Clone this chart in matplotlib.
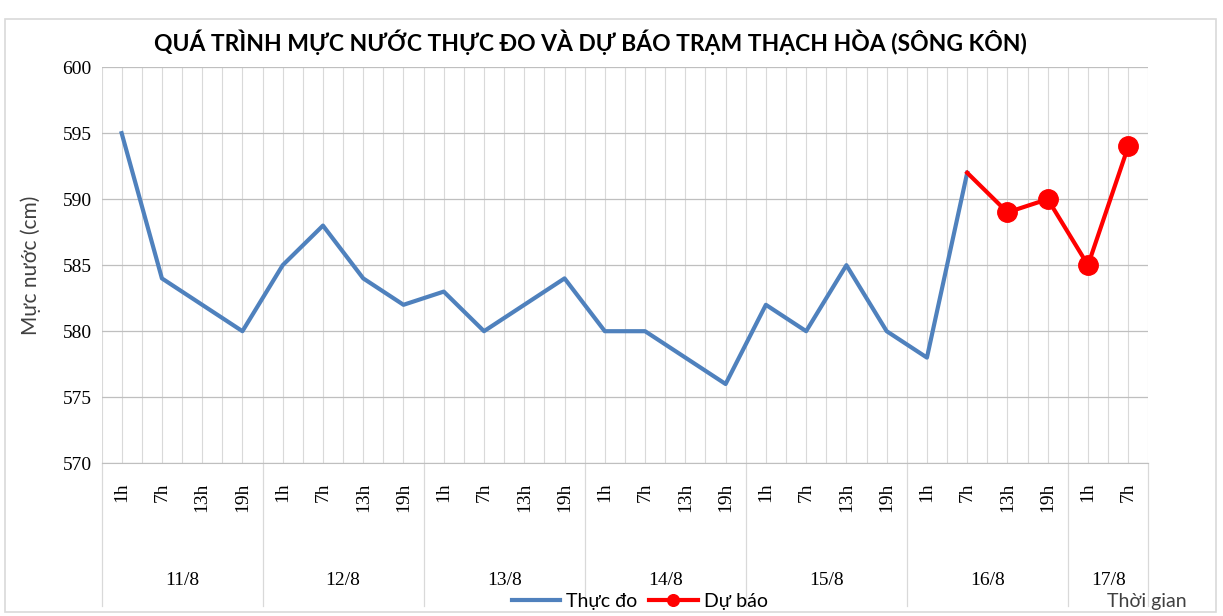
import matplotlib.pyplot as plt
import matplotlib.transforms as mtransforms
from matplotlib.patches import Rectangle

# data
days = ["11/8", "12/8", "13/8", "14/8", "15/8", "16/8", "17/8"]
hours_per_day = [["1h", "7h", "13h", "19h"]] * 6 + [["1h", "7h"]]
hour_labels = [h for hs in hours_per_day for h in hs]
observed = [595, 584, 582, 580, 585, 588, 584, 582, 583, 580, 582, 584,
            580, 580, 578, 576, 582, 580, 585, 580, 578, 592]
forecast = [592, 589, 590, 585, 594]
forecast_start = 21

blue = "#4F81BD"
red = "#FF0000"
grid_c = "#D9D9D9"
serif = "Liberation Serif"
sans = "Lato"

fig = plt.figure(figsize=(12.23, 6.16), dpi=100)
ax = fig.add_axes([0.083, 0.248, 0.856, 0.643])

x_obs = list(range(len(observed)))
x_fc = list(range(forecast_start, forecast_start + len(forecast)))
n = len(hour_labels)

ax.plot(x_obs, observed, color=blue, lw=3, label="Thực đo", zorder=3)
ax.plot(x_fc, forecast, color=red, lw=3, marker="o", ms=14,
        markevery=list(range(1, len(forecast))), label="Dự báo", zorder=4)

ax.set_xlim(-0.5, n - 0.5)
ax.set_ylim(570, 600)
ax.set_yticks(range(570, 601, 5))
ax.set_yticklabels([str(v) for v in range(570, 601, 5)], fontfamily=serif, fontsize=14)
ax.grid(axis="y", color="#BFBFBF", lw=0.9)
for i in range(n):
    ax.axvline(i, color=grid_c, lw=0.8, zorder=0)
    ax.axvline(i - 0.5, color=grid_c, lw=0.8, zorder=0)
ax.axvline(n - 0.5, color=grid_c, lw=0.8, zorder=0)

for s in ["top", "right", "left"]:
    ax.spines[s].set_visible(False)
ax.spines["bottom"].set_color("#BFBFBF")
ax.tick_params(axis="y", length=0, pad=7)
ax.tick_params(axis="x", length=0)
ax.set_xticks(range(n))
ax.set_xticklabels(hour_labels, rotation=90, fontfamily=serif, fontsize=14)
ax.tick_params(axis="x", pad=14)

trans = mtransforms.blended_transform_factory(ax.transData, ax.transAxes)
pos = -0.5
for d, hs in zip(days, hours_per_day):
    ax.plot([pos, pos], [0, -0.36], transform=trans, color=grid_c, lw=0.9, clip_on=False)
    mid = pos + len(hs) / 2
    ax.text(mid, -0.295, d, transform=trans, ha="center", va="center",
            fontfamily=serif, fontsize=14)
    pos += len(hs)
ax.plot([pos, pos], [0, -0.36], transform=trans, color=grid_c, lw=0.9, clip_on=False)

ax.set_ylabel("Mực nước (cm)", fontfamily=sans, fontsize=15, color="#404040")
ax.yaxis.set_label_coords(-0.058, 0.5)

fig.text(0.483, 0.932, "QUÁ TRÌNH MỰC NƯỚC THỰC ĐO VÀ DỰ BÁO TRẠM THẠCH HÒA (SÔNG KÔN)",
         ha="center", va="center", fontfamily=sans, fontsize=16.5, fontweight="bold")

leg = fig.legend(loc="center", bbox_to_anchor=(0.523, 0.024), ncol=2, frameon=False,
                 prop={"family": sans, "size": 14}, handlelength=2.5, markerscale=0.6,
                 columnspacing=0.6, handletextpad=0.3, borderaxespad=0)
fig.text(0.938, 0.024, "Thời gian", ha="center", va="center", fontfamily=sans,
         fontsize=14, color="#404040")

fig.patches.append(Rectangle((0.004, 0.006), 0.99, 0.963, transform=fig.transFigure,
                             fill=False, edgecolor="#D9D9D9", lw=1.2))

fig.savefig("out.png", dpi=100)
